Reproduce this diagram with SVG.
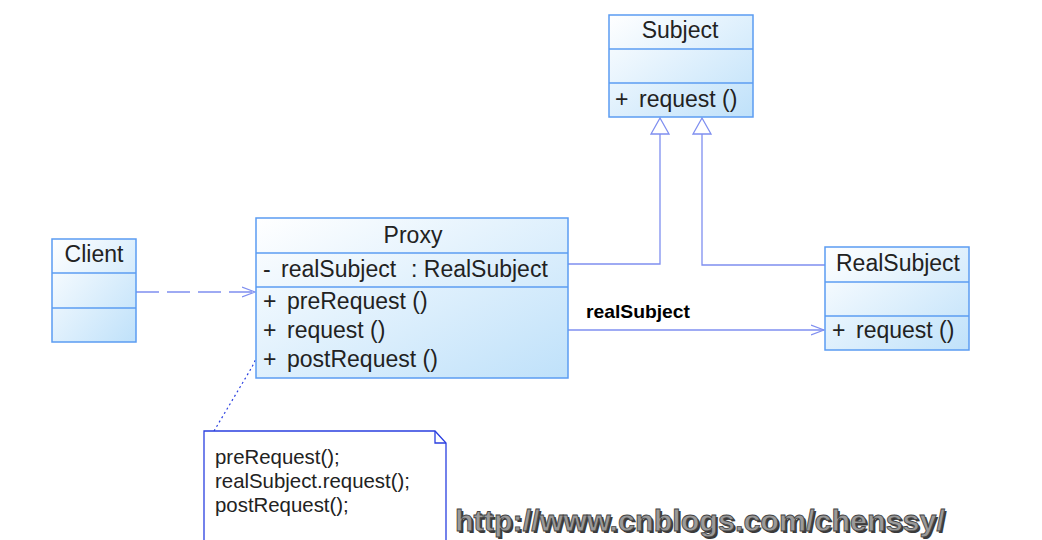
<svg xmlns="http://www.w3.org/2000/svg" width="1042" height="540" viewBox="0 0 1042 540">
<defs>
<linearGradient id="g" x1="0" y1="0" x2="1" y2="1">
<stop offset="0" stop-color="#ffffff"/>
<stop offset="1" stop-color="#bfe1fa"/>
</linearGradient>
<marker id="open" viewBox="0 0 14 12" refX="13" refY="6" markerWidth="14" markerHeight="12" markerUnits="userSpaceOnUse" orient="auto">
<path d="M0,1 L13,6 L0,11" fill="none" stroke="#7f8ff0" stroke-width="1.2"/>
</marker>
<style>
.box{fill:url(#g);stroke:#5b9cf2;stroke-width:1.5}
.div{stroke:#5b9cf2;stroke-width:1.5}
.t{font-family:"Liberation Sans",Arial,sans-serif;font-size:23px;fill:#222}
.c{stroke:#7f8ff0;stroke-width:1.3;fill:none}
.n{font-family:"Liberation Sans",Arial,sans-serif;font-size:20.4px;fill:#222}
</style>
</defs>
<rect width="1042" height="540" fill="#fff"/>
<g id="connectors">
<path class="c" d="M568,264 H660 V131"/>
<path class="c" d="M825,265 H702 V131"/>
<polygon points="660,118 651,134 669,134" fill="#fff" stroke="#7f8ff0" stroke-width="1.3"/>
<polygon points="702,118 693,134 711,134" fill="#fff" stroke="#7f8ff0" stroke-width="1.3"/>
<line class="c" x1="568" y1="330" x2="824" y2="330" marker-end="url(#open)"/>
<line class="c" x1="136" y1="292" x2="255" y2="292" stroke-dasharray="23,8" marker-end="url(#open)"/>
<polyline points="268,333 252,367 214,431" fill="none" stroke="#2a3fe0" stroke-width="1.2" stroke-dasharray="2,3"/>
<text x="586" y="318" font-family="'Liberation Sans',Arial,sans-serif" font-size="19" font-weight="bold" fill="#000" textLength="104" lengthAdjust="spacingAndGlyphs">realSubject</text>
</g>
<g id="subject">
<rect class="box" x="609" y="15" width="144" height="102"/>
<line class="div" x1="609" y1="49" x2="753" y2="49"/>
<line class="div" x1="609" y1="83" x2="753" y2="83"/>
<text class="t" x="680" y="38" text-anchor="middle">Subject</text>
<text class="t" y="107"><tspan x="615">+</tspan><tspan x="639">request ()</tspan></text>
</g>
<g id="proxy">
<rect class="box" x="256" y="218" width="312" height="160"/>
<line class="div" x1="256" y1="253" x2="568" y2="253"/>
<line class="div" x1="256" y1="287" x2="568" y2="287"/>
<text class="t" x="413" y="243" text-anchor="middle">Proxy</text>
<text class="t" y="277"><tspan x="263">-</tspan><tspan x="281">realSubject</tspan><tspan x="411">: RealSubject</tspan></text>
<text class="t" y="309"><tspan x="263">+</tspan><tspan x="287">preRequest ()</tspan></text>
<text class="t" y="338"><tspan x="263">+</tspan><tspan x="287">request ()</tspan></text>
<text class="t" y="367"><tspan x="263">+</tspan><tspan x="287">postRequest ()</tspan></text>
</g>
<g id="client">
<rect class="box" x="52" y="239" width="84" height="103"/>
<line class="div" x1="52" y1="273" x2="136" y2="273"/>
<line class="div" x1="52" y1="308" x2="136" y2="308"/>
<text class="t" x="94" y="262" text-anchor="middle">Client</text>
</g>
<g id="realsubject">
<rect class="box" x="825" y="247" width="144" height="103"/>
<line class="div" x1="825" y1="282" x2="969" y2="282"/>
<line class="div" x1="825" y1="316" x2="969" y2="316"/>
<text class="t" x="898" y="271" text-anchor="middle">RealSubject</text>
<text class="t" y="338"><tspan x="832">+</tspan><tspan x="856">request ()</tspan></text>
</g>
<g id="note">
<path d="M204,431 H435 L446,443 V545 H204 Z" fill="#fff" stroke="#2a3fe0" stroke-width="1.3"/>
<path d="M435,431 V443 H446" fill="none" stroke="#2a3fe0" stroke-width="1.3"/>
<text class="n" x="215" y="464">preRequest();</text>
<text class="n" x="215" y="488">realSubject.request();</text>
<text class="n" x="215" y="512">postRequest();</text>
</g>
<g id="watermark">
<text x="457" y="533" font-family="'Liberation Sans',Arial,sans-serif" font-size="29" font-weight="bold" fill="#3a3a3a" textLength="490" lengthAdjust="spacingAndGlyphs">http://www.cnblogs.com/chenssy/</text>
<text x="455" y="531" font-family="'Liberation Sans',Arial,sans-serif" font-size="29" font-weight="bold" fill="#9a9a9a" stroke="#444" stroke-width="0.8" textLength="490" lengthAdjust="spacingAndGlyphs">http://www.cnblogs.com/chenssy/</text>
</g>
</svg>
